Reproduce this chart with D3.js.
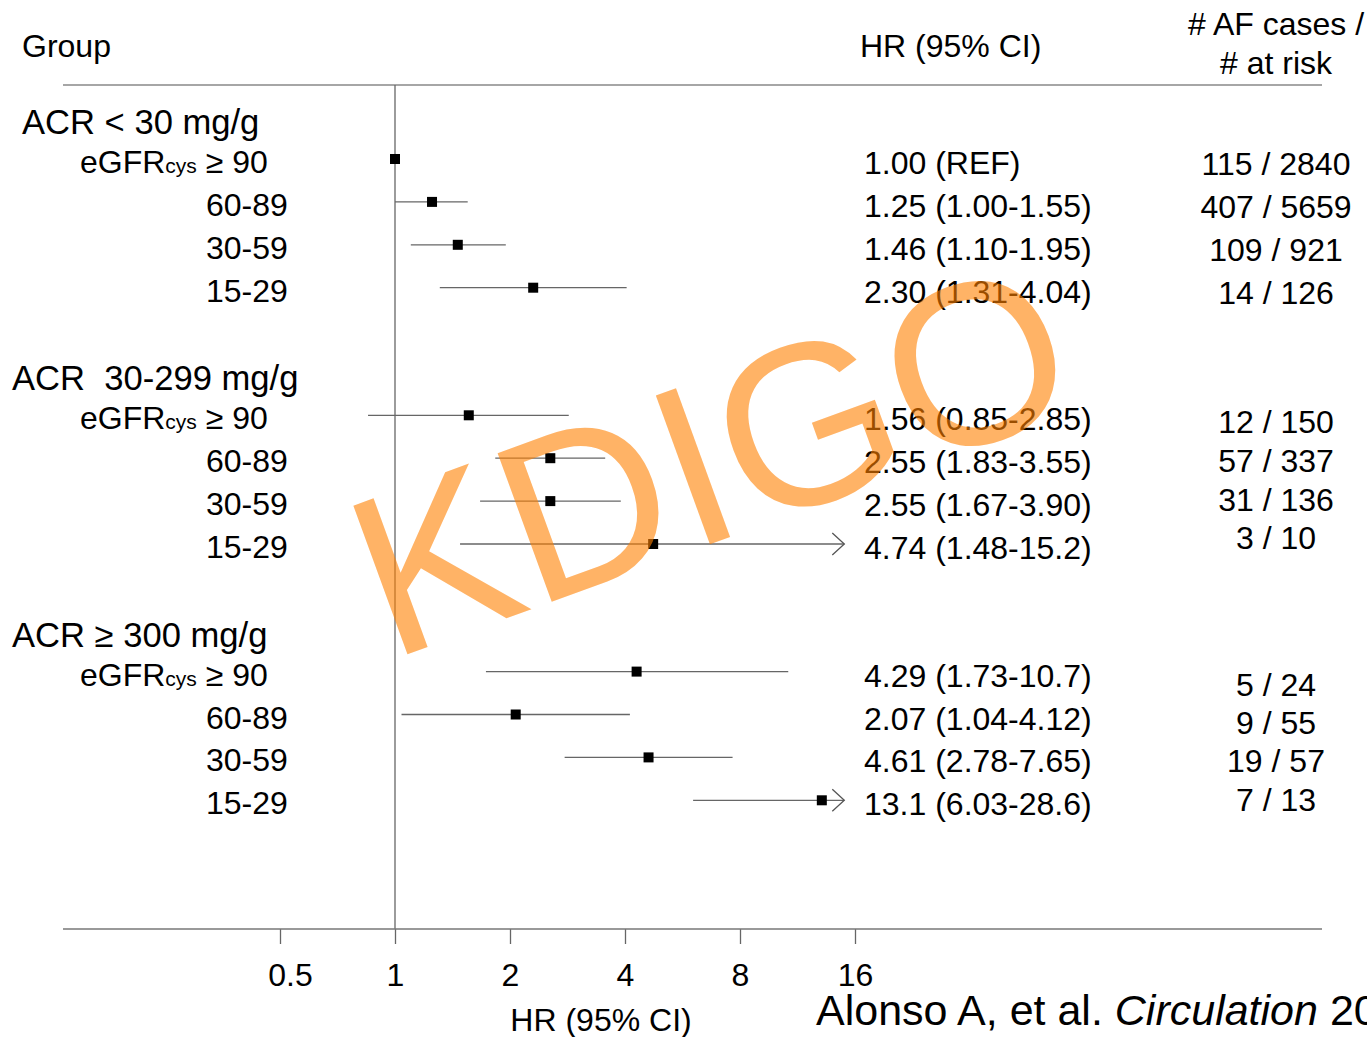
<!DOCTYPE html>
<html>
<head>
<meta charset="utf-8">
<script src="https://cdn.jsdelivr.net/npm/d3@7"></script>
<style>
  body { margin: 0; background: #fff; }
  svg { display: block; font-family: "Liberation Sans", Arial, sans-serif; }
  .pre { white-space: pre; }
</style>
</head>
<body>
<div id="forest-chart"></div>
<script>
// Chart values
const groups = ["ACR < 30 mg/g", "ACR  30-299 mg/g", "ACR \u2265 300 mg/g"];
const strata = ["\u2265 90", "60-89", "30-59", "15-29"];
const hr = [1.00, 1.25, 1.46, 2.30, 1.56, 2.55, 2.55, 4.74, 4.29, 2.07, 4.61, 13.1];
const ciLow = [null, 1.00, 1.10, 1.31, 0.85, 1.83, 1.67, 1.48, 1.73, 1.04, 2.78, 6.03];
const ciHigh = [null, 1.55, 1.95, 4.04, 2.85, 3.55, 3.90, 15.2, 10.7, 4.12, 7.65, 28.6];
const hrLabels = [
  "1.00 (REF)", "1.25 (1.00-1.55)", "1.46 (1.10-1.95)", "2.30 (1.31-4.04)",
  "1.56 (0.85-2.85)", "2.55 (1.83-3.55)", "2.55 (1.67-3.90)", "4.74 (1.48-15.2)",
  "4.29 (1.73-10.7)", "2.07 (1.04-4.12)", "4.61 (2.78-7.65)", "13.1 (6.03-28.6)"
];
const counts = [
  "115 / 2840", "407 / 5659", "109 / 921", "14 / 126",
  "12 / 150", "57 / 337", "31 / 136", "3 / 10",
  "5 / 24", "9 / 55", "19 / 57", "7 / 13"
];
const xTicks = [0.5, 1, 2, 4, 8, 16];
const axisCap = 15; // CIs beyond this get an arrow

// Layout
const width = 1367, height = 1037;
const rowTop = 159, groupStep = 256.3, rowStep = 42.9;
const groupLabelX = [22, 12, 12];
const countLayout = [{ dy: 16, step: 42.9 }, { dy: 18, step: 38.7 }, { dy: 24, step: 38.3 }];

const svg = d3.select("#forest-chart").append("svg")
  .attr("width", width)
  .attr("height", height);

const x = d3.scaleLog().base(2)
  .domain([0.5, 16])
  .range([280, 855]);

const rows = hr.map((v, i) => ({
  g: Math.floor(i / 4),
  r: i % 4,
  hr: v,
  lo: ciLow[i],
  hi: ciHigh[i],
  label: hrLabels[i],
  count: counts[i]
}));
const rowY = d => rowTop + d.g * groupStep + d.r * rowStep;

// Header
svg.append("text").attr("x", 22).attr("y", 57).attr("font-size", 32).text("Group");
svg.append("text").attr("x", 860).attr("y", 57).attr("font-size", 32).text("HR (95% CI)");
svg.append("text").attr("x", 1276).attr("y", 35).attr("font-size", 32)
  .attr("text-anchor", "middle").text("# AF cases /");
svg.append("text").attr("x", 1276).attr("y", 74).attr("font-size", 32)
  .attr("text-anchor", "middle").text("# at risk");

svg.append("line")
  .attr("x1", 63).attr("x2", 1322).attr("y1", 85).attr("y2", 85)
  .attr("stroke", "#888").attr("stroke-width", 1.5);

// Reference line at HR = 1
svg.append("line")
  .attr("x1", x(1)).attr("x2", x(1)).attr("y1", 85).attr("y2", 929)
  .attr("stroke", "#666").attr("stroke-width", 1.3);

// Group headings
svg.selectAll(".group-label")
  .data(groups)
  .enter()
  .append("text")
  .attr("class", "group-label pre")
  .attr("x", (_, i) => groupLabelX[i])
  .attr("y", (_, i) => rowTop + i * groupStep - 25)
  .attr("font-size", 34.6)
  .text(d => d);

// Row labels
const rowLabels = svg.selectAll(".row-label")
  .data(rows)
  .enter()
  .append("text")
  .attr("class", "row-label")
  .attr("font-size", 32)
  .attr("y", d => rowY(d) + 14)
  .attr("x", d => d.r === 0 ? 80 : 206);

rowLabels.filter(d => d.r === 0).each(function() {
  const t = d3.select(this);
  t.append("tspan").text("eGFR");
  t.append("tspan").attr("font-size", 21).text("cys");
  t.append("tspan").text(" " + strata[0]);
});
rowLabels.filter(d => d.r > 0).text(d => strata[d.r]);

// CI lines
const ciRows = rows.filter(d => d.lo !== null);
svg.selectAll(".ci")
  .data(ciRows)
  .enter()
  .append("line")
  .attr("class", "ci")
  .attr("x1", d => x(d.lo))
  .attr("x2", d => x(Math.min(d.hi, axisCap)))
  .attr("y1", rowY)
  .attr("y2", rowY)
  .attr("stroke", "#666")
  .attr("stroke-width", 1.3);

// Arrows for clipped CIs
svg.selectAll(".arrow")
  .data(ciRows.filter(d => d.hi > axisCap))
  .enter()
  .append("path")
  .attr("class", "arrow")
  .attr("d", d => {
    const tx = x(axisCap), ty = rowY(d);
    return `M${tx - 12},${ty - 11}L${tx},${ty}L${tx - 12},${ty + 11}`;
  })
  .attr("fill", "none")
  .attr("stroke", "#555")
  .attr("stroke-width", 1.3);

// Point estimates
svg.selectAll(".point")
  .data(rows)
  .enter()
  .append("rect")
  .attr("class", "point")
  .attr("x", d => x(d.hr) - 5)
  .attr("y", d => rowY(d) - 5)
  .attr("width", 10)
  .attr("height", 10)
  .attr("fill", "#000");

// HR text column
svg.selectAll(".hr-label")
  .data(rows)
  .enter()
  .append("text")
  .attr("class", "hr-label")
  .attr("x", 864)
  .attr("y", d => rowY(d) + 15)
  .attr("font-size", 32)
  .text(d => d.label);

// Counts column
svg.selectAll(".count-label")
  .data(rows)
  .enter()
  .append("text")
  .attr("class", "count-label")
  .attr("x", 1276)
  .attr("y", d => rowTop + d.g * groupStep + countLayout[d.g].dy + d.r * countLayout[d.g].step)
  .attr("text-anchor", "middle")
  .attr("font-size", 32)
  .text(d => d.count);

// X axis
const axis = svg.append("g")
  .attr("transform", "translate(0, 929)")
  .call(d3.axisBottom(x)
    .tickValues(xTicks)
    .tickSize(15)
    .tickPadding(19)
    .tickFormat(d3.format("")));
axis.select(".domain").remove();
axis.selectAll(".tick line").attr("stroke", "#666").attr("stroke-width", 1.3);
axis.selectAll(".tick text")
  .attr("font-size", 32)
  .attr("font-family", "Liberation Sans, Arial, sans-serif")
  .attr("fill", "#000")
  .attr("dx", d => d < 1 ? 10 : 0);

svg.append("line")
  .attr("x1", 63).attr("x2", 1322).attr("y1", 929).attr("y2", 929)
  .attr("stroke", "#777").attr("stroke-width", 1.5);

svg.append("text")
  .attr("x", 601).attr("y", 1031)
  .attr("text-anchor", "middle")
  .attr("font-size", 32)
  .text("HR (95% CI)");

// Citation
const cite = svg.append("text")
  .attr("x", 816).attr("y", 1025)
  .attr("font-size", 43);
cite.append("tspan").text("Alonso A, et al. ");
cite.append("tspan").attr("font-style", "italic").text("Circulation");
cite.append("tspan").text(" 2011");

// Watermark
svg.append("text")
  .attr("transform", "translate(738, 534) rotate(-20)")
  .attr("text-anchor", "middle")
  .attr("font-size", 230)
  .attr("fill", "#ff8000")
  .attr("fill-opacity", 0.6)
  .text("KDIGO");
</script>
</body>
</html>
